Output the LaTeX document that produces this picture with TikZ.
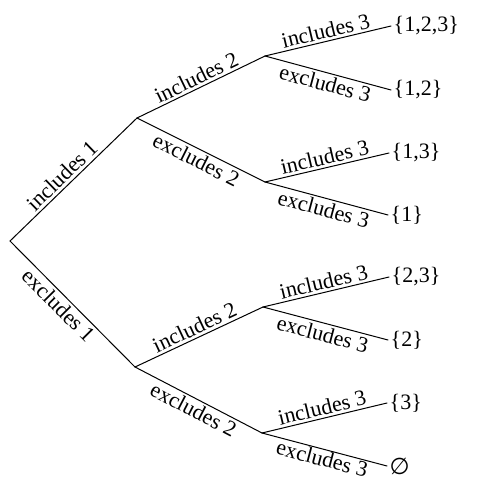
\documentclass[tikz,border=0pt]{standalone}
\usepackage{fontspec}
\setmainfont{Liberation Serif}
\newfontfamily\dvsans{DejaVu Sans}
\begin{document}
\begin{tikzpicture}[x=1pt,y=-1pt,
  lbl/.style={font=\fontsize{22}{26}\selectfont, sloped, inner sep=2.5pt},
  leaf/.style={font=\fontsize{22}{26}\selectfont, anchor=west, inner sep=2.5pt},
  br/.style={line width=1pt, line cap=round}]
\useasboundingbox (0,0) rectangle (488,479);
% inner nodes
\coordinate (r) at (10,241);
\coordinate (a) at (137,118);
\coordinate (b) at (135,367);
\coordinate (aa) at (265,56);
\coordinate (ab) at (265,182);
\coordinate (ba) at (263,307);
\coordinate (bb) at (262,433);
% leaves
\node[leaf] (l1) at (391,26) {\{1,2,3\}};
\node[leaf] (l2) at (391,90) {\{1,2\}};
\node[leaf] (l3) at (389,153) {\{1,3\}};
\node[leaf] (l4) at (388,215) {\{1\}};
\node[leaf] (l5) at (389,277) {\{2,3\}};
\node[leaf] (l6) at (388,340) {\{2\}};
\node[leaf] (l7) at (387,403) {\{3\}};
\node[leaf,inner ysep=0pt] (l8) at (387,466) {\dvsans\fontsize{23}{26}\selectfont ∅};
% edges
\draw[br] (r) -- node[lbl,above,pos=0.47] {includes 1} (a);
\draw[br] (r) -- node[lbl,below,pos=0.45] {excludes 1} (b);
\draw[br] (a) -- node[lbl,above] {includes 2} (aa);
\draw[br] (a) -- node[lbl,below] {excludes 2} (ab);
\draw[br] (b) -- node[lbl,above] {includes 2} (ba);
\draw[br] (b) -- node[lbl,below] {excludes 2} (bb);
\draw[br] (aa) -- node[lbl,above] {includes 3} (l1.west);
\draw[br] (aa) -- node[lbl,below] {excludes 3} (l2.west);
\draw[br] (ab) -- node[lbl,above] {includes 3} (l3.west);
\draw[br] (ab) -- node[lbl,below] {excludes 3} (l4.west);
\draw[br] (ba) -- node[lbl,above] {includes 3} (l5.west);
\draw[br] (ba) -- node[lbl,below] {excludes 3} (l6.west);
\draw[br] (bb) -- node[lbl,above] {includes 3} (l7.west);
\draw[br] (bb) -- node[lbl,below,inner sep=1pt] {excludes 3} (l8.west);
\end{tikzpicture}
\end{document}
